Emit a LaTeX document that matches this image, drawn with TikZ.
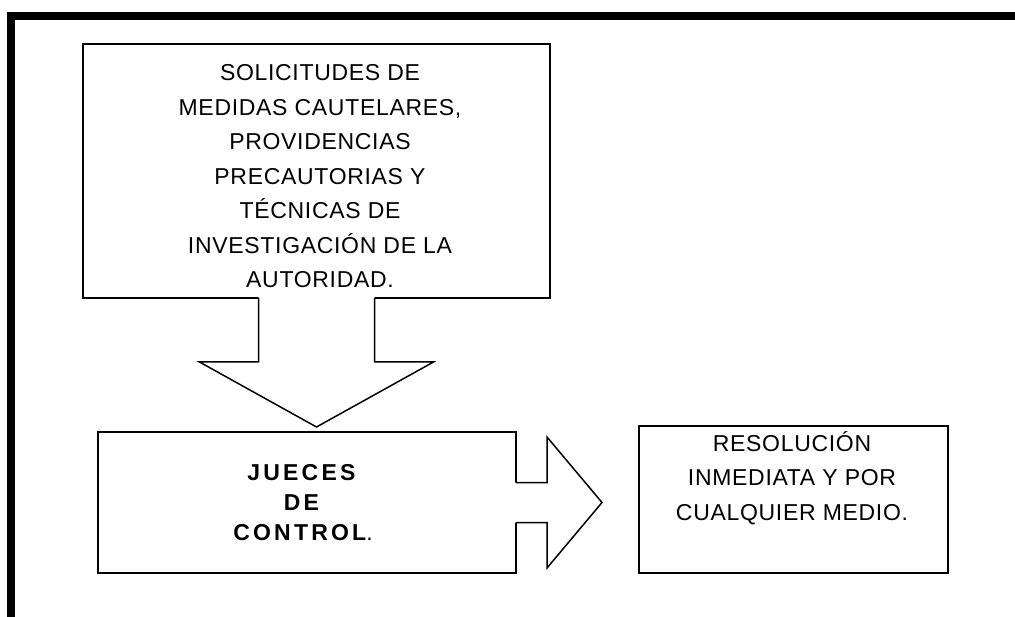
\documentclass[tikz,border=0pt]{standalone}
\usepackage{fontspec}
\setmainfont{Liberation Sans}
\usetikzlibrary{calc}
\begin{document}
\begin{tikzpicture}[x=1pt,y=-1pt,
caja/.style={draw, line width=2pt, inner sep=0pt},
texto/.style={align=center, font=\fontsize{23}{34.5}\selectfont\addfontfeature{LetterSpace=3}},
negrita/.style={align=center, font=\fontsize{23}{30}\selectfont\addfontfeature{LetterSpace=14}},
bloque/.style={line width=1.5pt, line join=miter}]
\useasboundingbox (0,0) rectangle (1015,617);
\draw[line width=8pt] (11,617) -- (11,16) -- (1015,16);
\node[caja, minimum width=467pt, minimum height=254pt] (solicitudes) at (316.5,171){};
\node[texto] (tsolicitudes) at (320,176.5){SOLICITUDES DE\\MEDIDAS CAUTELARES,\\PROVIDENCIAS\\PRECAUTORIAS Y\\TÉCNICAS DE\\INVESTIGACIÓN DE LA\\AUTORIDAD.};
\node[caja, minimum width=418pt, minimum height=141pt] (jueces) at (307,502.5){};
\node[negrita] (tjueces) at (303,503){\textbf{JUECES}\\\textbf{DE}\\\textbf{CONTROL}.};
\node[caja, minimum width=309pt, minimum height=147pt] (resolucion) at (793.5,499.5){};
\node[texto] (tresolucion) at (792,478){RESOLUCIÓN\\INMEDIATA Y POR\\CUALQUIER MEDIO.};
\coordinate (b1) at ($(solicitudes.south)+(-58,-6)$);
\coordinate (b2) at ($(solicitudes.south)+(-58,63)$);
\coordinate (b3) at ($(solicitudes.south)+(-117,63)$);
\coordinate (b4) at ($(solicitudes.south)+(0,128)$);
\coordinate (b5) at ($(solicitudes.south)+(117,63)$);
\coordinate (b6) at ($(solicitudes.south)+(58,63)$);
\coordinate (b7) at ($(solicitudes.south)+(58,-6)$);
\fill[white] (b1) -- (b2) -- (b3) -- (b4) -- (b5) -- (b6) -- (b7) -- cycle;
\draw[bloque] ($(b1)+(0,5)$) -- (b2) -- (b3) -- (b4) -- (b5) -- (b6) -- ($(b7)+(0,5)$);
\coordinate (c1) at ($(jueces.east)+(-6,-20)$);
\coordinate (c2) at ($(jueces.east)+(30,-20)$);
\coordinate (c3) at ($(jueces.east)+(30,-65.5)$);
\coordinate (c4) at ($(jueces.east)+(85,0)$);
\coordinate (c5) at ($(jueces.east)+(30,65.5)$);
\coordinate (c6) at ($(jueces.east)+(30,20)$);
\coordinate (c7) at ($(jueces.east)+(-6,20)$);
\fill[white] (c1) -- (c2) -- (c3) -- (c4) -- (c5) -- (c6) -- (c7) -- cycle;
\draw[bloque] ($(c1)+(5,0)$) -- (c2) -- (c3) -- (c4) -- (c5) -- (c6) -- ($(c7)+(5,0)$);
\end{tikzpicture}
\end{document}
